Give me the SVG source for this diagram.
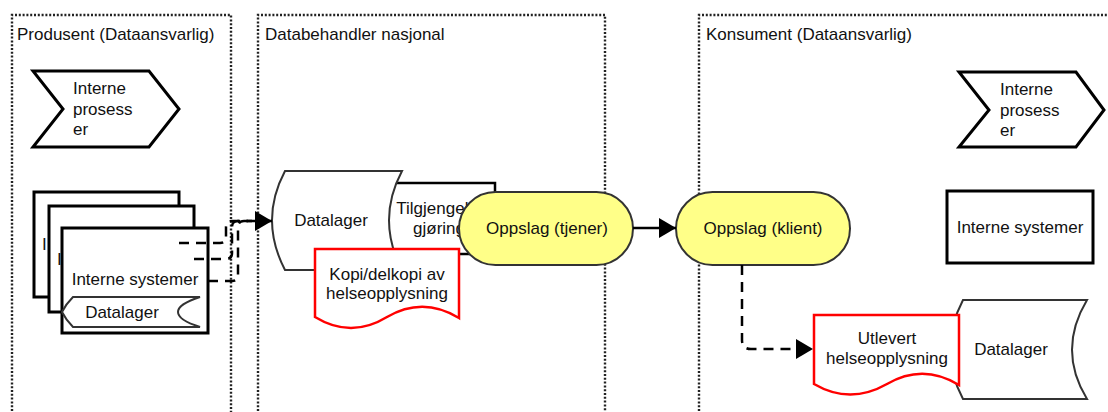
<svg xmlns="http://www.w3.org/2000/svg" width="1108" height="412" viewBox="0 0 1108 412">
<style>
text{font-family:"Liberation Sans",Arial,sans-serif;font-size:17px;fill:#111}
.lane{fill:none;stroke:#222;stroke-width:2.4;stroke-dasharray:2 1.8}
.box{fill:#fff;stroke:#000;stroke-width:3}
.store{fill:#fff;stroke:#333;stroke-width:2}
.doc{fill:#fff;stroke:#f00;stroke-width:2.5}
.term{fill:#ffff88;stroke:#333;stroke-width:2}
.c{fill:none;stroke:#000;stroke-width:2.5}
.d{stroke-dasharray:10 7}
.m{text-anchor:middle}
</style>
<defs>
<marker id="ah" markerUnits="userSpaceOnUse" markerWidth="18" markerHeight="20" refX="17" refY="10" orient="auto">
<path d="M0,0 L17,10 L0,20 Z" fill="#000"/>
</marker>
</defs>
<g id="lanes">
<g id="lane-produsent"><path class="lane" d="M12,430 V15 H231 V430"/><text x="17" y="40">Produsent (Dataansvarlig)</text></g>
<g id="lane-databehandler"><path class="lane" d="M258,430 V15 H605 V430"/><text x="265" y="40">Databehandler nasjonal</text></g>
<g id="lane-konsument"><path class="lane" d="M699,430 V15 H1120"/><text x="706" y="40">Konsument (Dataansvarlig)</text></g>
</g>
<g id="prosess-produsent">
<polygon class="box" points="33,71 149,71 179,109 149,147 33,147 63,109"/>
<text x="73" y="94">Interne</text><text x="73" y="114.5">prosess</text><text x="73" y="135">er</text>
</g>
<g id="system-back">
<rect class="box" x="34" y="192" width="145" height="105"/>
<text x="42" y="250">I</text>
</g>
<g id="system-middle">
<rect class="box" x="49" y="206" width="145" height="106"/>
<text x="57" y="265">I</text>
</g>
<g id="system-front">
<rect class="box" x="62" y="228" width="146" height="105"/>
<text class="m" x="135" y="285">Interne systemer</text>
</g>
<g id="datalager-produsent">
<path class="store" d="M73,297 H200 Q178,304 178,312 Q178,320 200,327 H73 Q66,320 62,312 Q66,304 73,297 Z"/>
<text class="m" x="122" y="318">Datalager</text>
</g>
<g id="tilgjengeliggjoring">
<rect class="box" x="385" y="183" width="110" height="71" style="stroke-width:2.5"/>
<text class="m" x="439" y="214">Tilgjengelig</text><text class="m" x="439" y="234">gjøring</text>
</g>
<g id="datalager-nasjonal">
<path class="store" d="M285,171 H402 Q376,220 402,270 H285 Q259,220 285,171 Z"/>
<text class="m" x="331" y="226">Datalager</text>
</g>
<g id="kopi">
<path class="doc" d="M315,249 H459 V318 Q423,296 387,317 Q351,339 315,317 Z"/>
<text class="m" x="387" y="280">Kopi/delkopi av</text><text class="m" x="387" y="299">helseopplysning</text>
</g>
<g id="oppslag-tjener">
<rect class="term" x="459" y="192" width="174" height="73" rx="36.5"/>
<text class="m" x="547" y="234">Oppslag (tjener)</text>
</g>
<g id="oppslag-klient">
<rect class="term" x="676" y="192" width="174" height="73" rx="36.5"/>
<text class="m" x="763" y="234">Oppslag (klient)</text>
</g>
<g id="prosess-konsument">
<polygon class="box" points="959,72 1076,72 1104,110 1076,147 959,147 989,110"/>
<text x="1000" y="95">Interne</text><text x="1000" y="115.5">prosess</text><text x="1000" y="136">er</text>
</g>
<g id="system-konsument">
<rect class="box" x="947" y="191" width="146" height="72"/>
<text class="m" x="1020" y="233">Interne systemer</text>
</g>
<g id="datalager-konsument">
<path class="store" d="M963,300 H1087 Q1057,350 1087,399 H963 Q937,350 963,300 Z"/>
<text class="m" x="1011" y="355">Datalager</text>
</g>
<g id="utlevert">
<path class="doc" d="M814,315 H959 V385 Q923,363 887,384 Q850,405 814,384 Z"/>
<text class="m" x="887" y="344">Utlevert</text><text class="m" x="887" y="364">helseopplysning</text>
</g>
<g id="connectors">
<path class="c d" d="M179,243 H220 Q226,243 226,237 V227 Q226,221 232,221 H272" marker-end="url(#ah)"/>
<path class="c d" d="M194,259 H226 Q232,259 232,253 V227 Q232,221 238,221 H252"/>
<path class="c d" d="M208,281 H232 Q238,281 238,275 V227 Q238,221 244,221 H252"/>
<path class="c" d="M633,228 H676" marker-end="url(#ah)"/>
<path class="c d" d="M742,265 V340 Q742,349 751,349 H813" marker-end="url(#ah)"/>
</g>
</svg>
